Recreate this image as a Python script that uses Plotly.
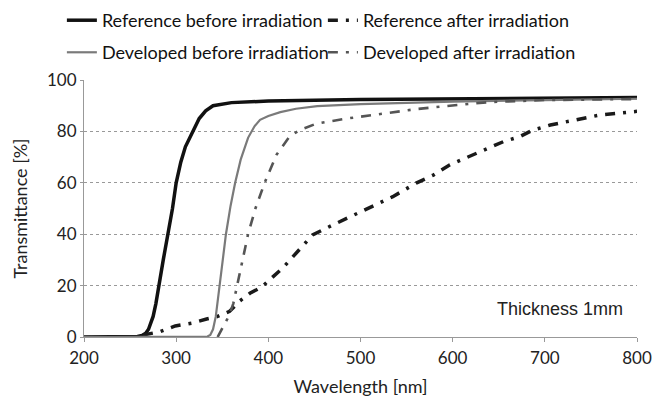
import plotly.graph_objects as go

# ---- data ----
ref_before_x = [200, 250, 258, 263, 267, 270, 275, 278, 281, 286, 291, 296, 300, 305, 310, 318, 325, 332, 340, 360, 400, 500, 600, 700, 800]
ref_before_y = [0, 0, 0.2, 0.6, 1.5, 3, 8, 13, 20, 30, 40, 50, 60, 68, 74, 80, 85, 88, 90, 91.2, 91.8, 92.4, 92.7, 93.0, 93.2]

dev_before_x = [200, 300, 334, 337, 340, 343, 347, 350, 354, 359, 364, 370, 378, 385, 391, 400, 413, 430, 453, 500, 600, 700, 800]
dev_before_y = [0, 0, 0.2, 0.8, 3, 8, 20, 29, 40, 51, 60, 69, 77.5, 82, 84.5, 86, 87.5, 88.8, 89.8, 90.6, 91.6, 92.2, 92.7]

ref_after_x = [264, 282, 299, 317, 333, 345, 358, 369, 380, 393, 416, 434, 448, 470, 496, 518, 535, 561, 579, 597, 622, 655, 673, 687, 706, 724, 742, 760, 800]
ref_after_y = [0.8, 2, 4.3, 5.4, 7, 8, 10, 14, 17, 19.5, 27, 34, 39.7, 43.6, 48, 51.5, 54.6, 60, 63, 67, 71, 76, 78, 80.5, 82.5, 83.7, 85.2, 86.4, 87.8]

dev_after_x = [345, 351, 357, 362, 366, 372, 378, 386, 396, 409, 423, 434, 452, 485, 524, 561, 605, 640, 700, 800]
dev_after_y = [0, 4, 8, 13, 19.5, 30, 40, 50, 60, 71, 78, 80.5, 83, 85, 87, 88.7, 90.3, 91.4, 92.2, 92.6]

x_ticks = [200, 300, 400, 500, 600, 700, 800]
y_ticks = [0, 20, 40, 60, 80, 100]

names = ["Reference before irradiation", "Reference after irradiation",
         "Developed before irradiation", "Developed after irradiation"]

FONT = "Lato"

fig = go.Figure()
fig.add_trace(go.Scatter(x=ref_before_x, y=ref_before_y, mode="lines", name=names[0],
                         line=dict(color="#111111", width=3.5), legend="legend"))
fig.add_trace(go.Scatter(x=ref_after_x, y=ref_after_y, mode="lines", name=names[1],
                         line=dict(color="#1a1a1a", width=3.5, dash="10px,8px,3px,8px"), legend="legend"))
fig.add_trace(go.Scatter(x=dev_before_x, y=dev_before_y, mode="lines", name=names[2],
                         line=dict(color="#7a7a7a", width=2.2), legend="legend2"))
fig.add_trace(go.Scatter(x=dev_after_x, y=dev_after_y, mode="lines", name=names[3],
                         line=dict(color="#555555", width=2.6, dash="10px,8px,3px,8px"), legend="legend2"))

legend_common = dict(orientation="h", xanchor="left", yanchor="middle", x=-0.04,
                     font=dict(family=FONT, size=18, color="#111"),
                     entrywidth=216, entrywidthmode="pixels",
                     bgcolor="rgba(0,0,0,0)", itemwidth=30)

# the page body has an 8px margin, so the figure is a little smaller than the window
fig.update_layout(
    width=657, height=392,
    margin=dict(l=76, r=28, t=72, b=63, autoexpand=False),
    paper_bgcolor="white", plot_bgcolor="white",
    font=dict(family=FONT, size=17, color="#222"),
    legend=dict(y=1.2315, **legend_common),
    legend2=dict(y=1.1067, **legend_common),
    xaxis=dict(range=[200, 800], tickvals=x_ticks, showgrid=False, zeroline=False,
               showline=True, linecolor="#999", linewidth=1,
               ticks="outside", ticklen=4, tickcolor="#999", ticklabelstandoff=2,
               tickfont=dict(family=FONT, size=17, color="#222"),
               title=dict(text="Wavelength [nm]", font=dict(family=FONT, size=18, color="#222"), standoff=12)),
    yaxis=dict(range=[0, 100], tickvals=y_ticks, showgrid=True, gridcolor="#999",
               griddash="dot", gridwidth=1, zeroline=False,
               showline=True, linecolor="#999", linewidth=1,
               ticks="outside", ticklen=3, tickcolor="#999",
               tickfont=dict(family=FONT, size=17, color="#222"),
               title=dict(text="Transmittance [%]", font=dict(family=FONT, size=18, color="#222"), standoff=14)),
    annotations=[dict(x=716, y=11, xref="x", yref="y", text="Thickness 1mm", showarrow=False,
                      font=dict(family="Liberation Sans", size=18, color="#222"))],
)

fig.write_html("out.html")
